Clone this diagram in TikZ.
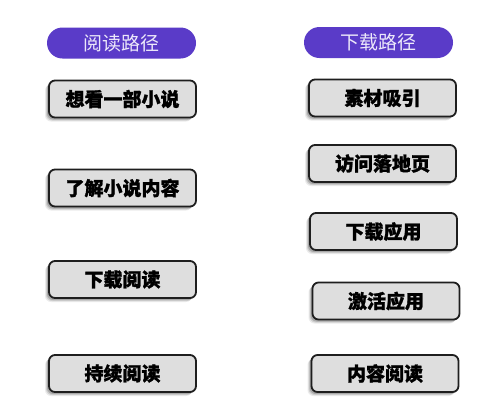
\documentclass[tikz,border=0pt]{standalone}
\usepackage{fontspec}
\newfontfamily\cjk[BoldFeatures={FakeBold=1.3}]{Noto Sans CJK SC}
\usetikzlibrary{shadows}
\definecolor{hdr}{HTML}{5A3BC8}
\definecolor{hdrtxt}{HTML}{ECE8FA}
\definecolor{boxfill}{HTML}{DEDEDE}
\definecolor{boxline}{HTML}{1E1E1E}
\begin{document}
\begin{tikzpicture}[x=1pt,y=-1pt,
  header/.style={fill=hdr, rounded corners=15.5pt, minimum width=149pt, minimum height=31pt,
    inner sep=0pt, text=hdrtxt, font=\cjk\fontsize{19}{20}\selectfont},
  stepbox/.style={draw=boxline, fill=boxfill, line width=1.8pt, rounded corners=6pt,
    minimum width=147pt, minimum height=37pt, inner sep=0pt,
    font=\cjk\bfseries\fontsize{19}{20}\selectfont,
    drop shadow={shadow xshift=-4pt, shadow yshift=-4pt, opacity=0.08, fill=black},
    drop shadow={shadow xshift=-3pt, shadow yshift=-3pt, opacity=0.12, fill=black},
    drop shadow={shadow xshift=-2pt, shadow yshift=-2pt, opacity=0.18, fill=black}}]
\useasboundingbox (0,0) rectangle (500,418);
\fill[white] (0,0) rectangle (500,418);
\node[header] (lh) at (121.5,43) {阅读路径};
\node[header] (rh) at (378.5,42.5) {下载路径};
\node[stepbox] (l1) at (122.5,99) {想看一部小说};
\node[stepbox] (l2) at (122.5,188) {了解小说内容};
\node[stepbox] (l3) at (122.5,279.5) {下载阅读};
\node[stepbox] (l4) at (122.5,373.5) {持续阅读};
\node[stepbox] (r1) at (382.5,98) {素材吸引};
\node[stepbox] (r2) at (382.5,163.5) {访问落地页};
\node[stepbox] (r3) at (383.5,231.5) {下载应用};
\node[stepbox] (r4) at (386,301) {激活应用};
\node[stepbox] (r5) at (385,373.5) {内容阅读};
\end{tikzpicture}
\end{document}
